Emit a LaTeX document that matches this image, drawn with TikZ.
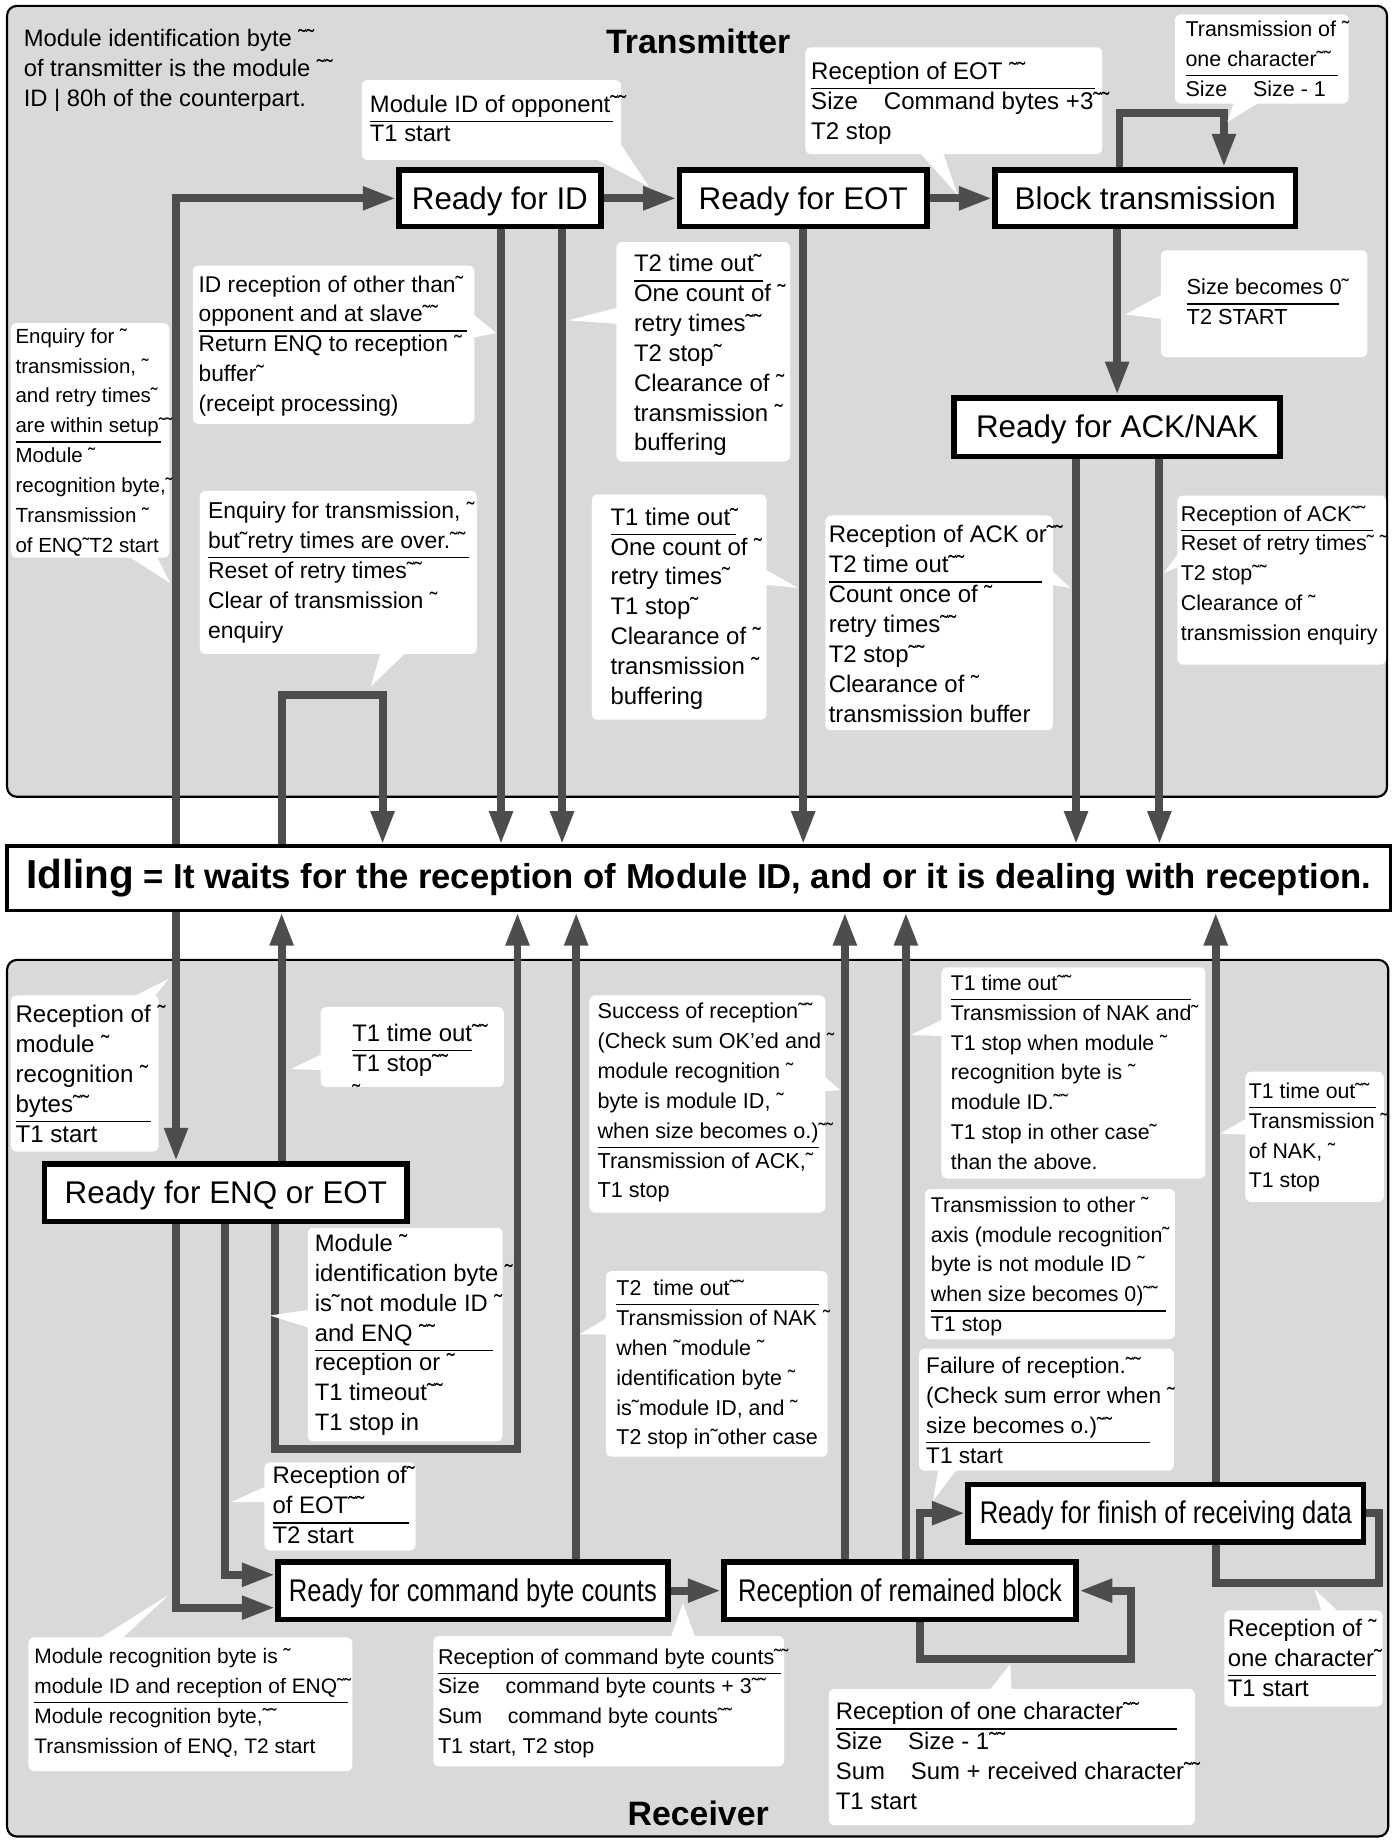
\documentclass[tikz,border=0pt]{standalone}
\usepackage{fontspec}
\setmainfont{Liberation Sans}
\usepackage{graphicx}
\usetikzlibrary{arrows.meta,positioning}
\definecolor{panelgray}{RGB}{217,217,217}
\definecolor{flowgray}{RGB}{77,77,77}
\newlength\pxu
\setlength\pxu{0.025cm}
\newcommand\nf[1]{\fontsize{#1}{18.1}\selectfont}
\newcommand\condline[1]{\makebox[0pt][l]{\rule[-6pt]{#1\pxu}{0.8pt}}}
\newcommand\sgap{\hspace{22\pxu}}
\tikzset{
  panel/.style={draw=black, line width=1.3pt, fill=panelgray, rounded corners=6pt},
  state/.style={draw=black, line width=3.5pt, fill=white, inner sep=0pt,
    text height=14pt, text depth=1pt, font=\fontsize{19}{22}\selectfont},
  flowline/.style={draw=flowgray, line width=4.8pt},
  flow/.style={flowline, -{Triangle[length=0.71cm,width=0.47cm]}},
  note/.style={fill=white, rounded corners=3.5pt, anchor=north west, inner sep=0pt},
  notetext/.style={anchor=north west, align=left, inner sep=0pt, font=\nf{13.8}},
  pointer/.style={fill=white},
}

\begin{document}
\begin{tikzpicture}[x=0.025cm, y=-0.025cm]
    \fill[white] (0,0) rectangle (1191,1568);
    \useasboundingbox (0,0) rectangle (1191,1568);

    % Panels
    \draw[panel] (6,5) rectangle (1182,679);
    \draw[panel] (6,818) rectangle (1183,1565);

    % Titles
    \node[font=\fontsize{20.5}{24}\selectfont\bfseries] (txtitle) at (595,35) {Transmitter};
    \node[font=\fontsize{20.5}{24}\selectfont\bfseries] (rxtitle) at (595,1545) {Receiver};
    \node[notetext, font=\nf{14.4}] (idnote) at (20,25)
        {Module identification byte ˜˜\\of transmitter is the module ˜˜\\ID | 80h of the counterpart.};

    % States of the transmitter
    \node[state, minimum width=172*\pxu, minimum height=48*\pxu] (rid) at (426,169) {Ready for ID};
    \node[state, minimum width=211*\pxu, minimum height=48*\pxu] (reot) at (684.5,169) {Ready for EOT};
    \node[state, minimum width=256*\pxu, minimum height=48*\pxu] (bt) at (976,169) {Block transmission};
    \node[state, minimum width=278*\pxu, minimum height=50*\pxu] (ran) at (952,364) {Ready for ACK/NAK};

    % States of the receiver
    \node[state, minimum width=309*\pxu, minimum height=49*\pxu] (renq) at (192.5,1016.5) {Ready for ENQ or EOT};
    \node[state, minimum width=332*\pxu, minimum height=49*\pxu] (rcbc) at (403,1355.5)
        {\scalebox{0.815}[1]{Ready for command byte counts}};
    \node[state, minimum width=300*\pxu, minimum height=49*\pxu] (rrb) at (767,1355.5)
        {\scalebox{0.815}[1]{Reception of remained block}};
    \node[state, minimum width=337*\pxu, minimum height=49*\pxu] (rfin) at (993.5,1289.5)
        {\scalebox{0.815}[1]{Ready for finish of receiving data}};

    % Idling
    \node[draw=black, line width=2pt, fill=white, inner sep=0pt,
        minimum width=1179*\pxu, minimum height=55*\pxu,
        font=\fontsize{21}{25}\selectfont\bfseries] (idle) at (595.5,748.5)
        {{\fontsize{24.5}{28}\selectfont Idling} = It waits for the reception of Module ID, and or it is dealing with reception.};

    % Columns of the vertical connectors
    \foreach \n/\x in {a/150,b/427,c/479,e/917,f/988,g/240,h/192,k/491,l/720,m/772,o/1036}
        \coordinate (col\n) at (\x,0);
    \coordinate (loopa) at (240,592);
    \coordinate (loopb) at (326,592);
    \coordinate (enqa) at (234,1235);
    \coordinate (enqb) at (441,1235);
    \coordinate (blka) at (784,1414);
    \coordinate (blkb) at (964,1414);
    \coordinate (fina) at (1175,1349);

    % Transmitter connectors
    \draw[flow] (idle.north -| cola) |- (rid.west);
    \draw[flow] (rid) -- (reot);
    \draw[flow] (reot) -- (bt);
    \draw[flow] ([xshift=-22*\pxu]bt.north) -- ++(0,-46) -| ([xshift=67*\pxu]bt.north);
    \draw[flow] (bt.south -| ran.north) -- (ran.north);
    \draw[flow] (rid.south -| colb) -- (idle.north -| colb);
    \draw[flow] (rid.south -| colc) -- (idle.north -| colc);
    \draw[flow] (reot.south) -- (idle.north -| reot.south);
    \draw[flow] (ran.south -| cole) -- (idle.north -| cole);
    \draw[flow] (ran.south -| colf) -- (idle.north -| colf);
    \draw[flow] (idle.north -| loopa) -- (loopa) -- (loopb) -- (idle.north -| loopb);

    % Receiver connectors
    \draw[flow] (idle.south -| cola) -- (renq.north -| cola);
    \draw[flow] (renq.north -| colg) -- (idle.south -| colg);
    \draw[flow] (renq.south -| enqa) -- (enqa) -- (enqb) -- (idle.south -| enqb);
    \draw[flow] (renq.south -| cola) |- ([yshift=-14.5*\pxu]rcbc.west);
    \draw[flow] (renq.south -| colh) |- ([yshift=13.5*\pxu]rcbc.west);
    \draw[flow] (rcbc.north -| colk) -- (idle.south -| colk);
    \draw[flow] (rcbc) -- (rrb);
    \draw[flow] (rrb.north -| coll) -- (idle.south -| coll);
    \draw[flow] (rrb.north -| colm) -- (idle.south -| colm);
    \draw[flow] (rrb.south -| blka) -- (blka) -- (blkb) |- (rrb.east);
    \draw[flow] (rrb.north -| blka) |- (rfin.west);
    \draw[flow] (rfin.north -| colo) -- (idle.south -| colo);
    \draw[flowline] (rfin.east) -| (fina) -| (rfin.south -| colo);

    % Callouts of the transmitter
    \node[note, minimum width=221*\pxu, minimum height=68*\pxu] (opp) at (308,68) {};
    \fill[pointer] (505,134) -- (527,120) -- (553,159) -- cycle;
    \node[notetext, font=\nf{14.4}] (oppt) at (315,80.5) {\condline{207}Module ID of opponent˜˜\\T1 start};

    \node[note, minimum width=253*\pxu, minimum height=91*\pxu] (eotrx) at (686,40) {};
    \fill[pointer] (782,128) -- (803,128) -- (816,166) -- cycle;
    \node[notetext, font=\nf{14.6}] (eotrxt) at (691,52.5)
        {\condline{242}Reception of EOT ˜˜\\Size\sgap Command bytes +3˜˜\\T2 stop};

    \node[note, minimum width=148*\pxu, minimum height=76*\pxu] (chartx) at (1001,12) {};
    \fill[pointer] (1052,86) -- (1075,86) -- (1046,104) -- cycle;
    \node[notetext, font=\nf{13}] (chartxt) at (1010,17.5)
        {Transmission of ˜\\\condline{130}one character˜˜\\Size\sgap Size - 1};

    \node[note, minimum width=176*\pxu, minimum height=91*\pxu] (sizezero) at (989,213) {};
    \fill[pointer] (992,250) -- (992,272) -- (959,268) -- cycle;
    \node[notetext, font=\nf{13.2}] (sizezerot) at (1011,237.5) {\condline{130}Size becomes 0˜\\T2 START};

    \node[note, minimum width=240*\pxu, minimum height=135*\pxu] (idother) at (164,226) {};
    \fill[pointer] (401,266) -- (401,288) -- (423,284) -- cycle;
    \node[notetext] (idothert) at (169,234.5)
        {ID reception of other than˜\\\condline{229}opponent and at slave˜˜\\Return ENQ to reception ˜\\buffer˜\\(receipt processing)};

    \node[note, minimum width=148*\pxu, minimum height=187*\pxu] (ttwoout) at (525,206) {};
    \fill[pointer] (527,262) -- (527,276) -- (484,273) -- cycle;
    \node[notetext, font=\nf{14.5}] (ttwooutt) at (540,216.5)
        {\condline{110}T2 time out˜\\One count of ˜\\retry times˜˜\\T2 stop˜\\Clearance of ˜\\transmission ˜\\buffering};

    \node[note, minimum width=135*\pxu, minimum height=200*\pxu] (enqtx) at (9,275) {};
    \fill[pointer] (108,473) -- (133,473) -- (145,497) -- cycle;
    \node[notetext, font=\nf{12.4}] (enqtxt) at (13,279.5)
        {Enquiry for ˜\\transmission, ˜\\and retry times˜\\\condline{124}are within setup˜˜\\Module ˜\\recognition byte,˜\\Transmission ˜\\of ENQ˜T2 start};

    \node[note, minimum width=236*\pxu, minimum height=139*\pxu] (retryover) at (170,418) {};
    \fill[pointer] (325,554) -- (348,554) -- (316,585) -- cycle;
    \node[notetext, font=\nf{13.9}] (retryovert) at (177,427.5)
        {Enquiry for transmission, ˜\\\condline{222}but˜retry times are over.˜˜\\Reset of retry times˜˜\\Clear of transmission ˜\\enquiry};

    \node[note, minimum width=149*\pxu, minimum height=192*\pxu] (toneout) at (504,421) {};
    \fill[pointer] (650,484) -- (650,498) -- (680,501) -- cycle;
    \node[notetext, font=\nf{14.5}] (toneoutt) at (520,432.5)
        {\condline{107}T1 time out˜\\One count of ˜\\retry times˜\\T1 stop˜\\Clearance of ˜\\transmission ˜\\buffering};

    \node[note, minimum width=194*\pxu, minimum height=183*\pxu] (ackout) at (703,439) {};
    \fill[pointer] (894,484) -- (894,498) -- (912,501) -- cycle;
    \node[notetext, font=\nf{14.5}] (ackoutt) at (706,447.5)
        {Reception of ACK or˜˜\\\condline{182}T2 time out˜˜\\Count once of ˜\\retry times˜˜\\T2 stop˜˜\\Clearance of ˜\\transmission buffer};

    \node[note, minimum width=178*\pxu, minimum height=144*\pxu] (ackrx) at (1003,422) {};
    \fill[pointer] (1007,468) -- (1007,482) -- (992,488) -- cycle;
    \node[notetext, font=\nf{13}] (ackrxt) at (1006,430.5)
        {\condline{164}Reception of ACK˜˜\\Reset of retry times˜ ˜\\T2 stop˜˜\\Clearance of ˜\\transmission enquiry};

    % Callouts of the receiver
    \node[note, minimum width=126*\pxu, minimum height=133*\pxu] (modrx) at (9,848) {};
    \fill[pointer] (112,850) -- (131,850) -- (144,834) -- cycle;
    \node[notetext, font=\nf{14.6}] (modrxt) at (13,856.5)
        {Reception of ˜\\module ˜\\recognition ˜\\\condline{115}bytes˜˜\\T1 start};

    \node[note, minimum width=156*\pxu, minimum height=68*\pxu] (tonestop) at (273,858) {};
    \fill[pointer] (275,898) -- (275,912) -- (248,911) -- cycle;
    \node[notetext, font=\nf{14.5}] (tonestopt) at (300,872.5) {\condline{102}T1 time out˜˜\\T1 stop˜˜\\˜};

    \node[note, minimum width=201*\pxu, minimum height=185*\pxu] (rxok) at (502,848) {};
    \fill[pointer] (700,915) -- (700,930) -- (716,929) -- cycle;
    \node[notetext, font=\nf{13.1}] (rxokt) at (509,854.5)
        {Success of reception˜˜\\(Check sum OK'ed and ˜\\module recognition ˜\\byte is module ID, ˜\\\condline{189}when size becomes o.)˜˜\\Transmission of ACK,˜\\T1 stop};

    \node[note, minimum width=225*\pxu, minimum height=180*\pxu] (naktx) at (802,824) {};
    \fill[pointer] (805,868) -- (805,883) -- (776,882) -- cycle;
    \node[notetext, font=\nf{12.9}] (naktxt) at (810,830.5)
        {\condline{205}T1 time out˜˜\\Transmission of NAK and˜\\T1 stop when module ˜\\recognition byte is ˜\\module ID.˜˜\\T1 stop in other case˜\\than the above.};

    \node[note, minimum width=118*\pxu, minimum height=111*\pxu] (nakfin) at (1061,913) {};
    \fill[pointer] (1064,952) -- (1064,967) -- (1040,966) -- cycle;
    \node[notetext, font=\nf{12.9}] (nakfint) at (1064,922.5)
        {\condline{108}T1 time out˜˜\\Transmission ˜\\of NAK, ˜\\T1 stop};

    \node[note, minimum width=213*\pxu, minimum height=128*\pxu] (otheraxis) at (788,1013) {};
    \node[notetext, font=\nf{12.95}] (otheraxist) at (793,1019.5)
        {Transmission to other ˜\\axis (module recognition˜\\byte is not module ID ˜\\\condline{200}when size becomes 0)˜˜\\T1 stop};

    \node[note, minimum width=217*\pxu, minimum height=104*\pxu] (rxfail) at (783,1149) {};
    \fill[pointer] (800,1250) -- (817,1250) -- (795,1279) -- cycle;
    \node[notetext, font=\nf{13.7}] (rxfailt) at (789,1156.5)
        {Failure of reception.˜˜\\(Check sum error when ˜\\\condline{191}size becomes o.)˜˜\\T1 start};

    \node[note, minimum width=166*\pxu, minimum height=182*\pxu] (notid) at (262,1046) {};
    \fill[pointer] (265,1116) -- (265,1132) -- (230,1121) -- cycle;
    \node[notetext, font=\nf{14.4}] (notidt) at (268,1051.5)
        {Module ˜\\identification byte ˜\\is˜not module ID ˜\\\condline{152}and ENQ ˜˜\\reception or ˜\\T1 timeout˜˜\\T1 stop in};

    \node[note, minimum width=129*\pxu, minimum height=75*\pxu] (eotenq) at (225,1246) {};
    \fill[pointer] (228,1266) -- (228,1280) -- (197,1280) -- cycle;
    \node[notetext, font=\nf{14.5}] (eotenqt) at (232,1249.5) {Reception of˜\\\condline{116}of EOT˜˜\\T2 start};

    \node[note, minimum width=189*\pxu, minimum height=158*\pxu] (ttwonak) at (516,1083) {};
    \fill[pointer] (519,1122) -- (519,1137) -- (494,1137) -- cycle;
    \node[notetext, font=\nf{13}] (ttwonakt) at (525,1090.5)
        {\condline{173}T2\ \ time out˜˜\\Transmission of NAK ˜\\when ˜module ˜\\identification byte ˜\\is˜module ID, and ˜\\T2 stop in˜other case};

    \node[note, minimum width=276*\pxu, minimum height=114*\pxu] (enqrx) at (24,1395) {};
    \fill[pointer] (82,1398) -- (102,1398) -- (144,1359) -- cycle;
    \node[notetext, font=\nf{12.7}] (enqrxt) at (29,1404.5)
        {Module recognition byte is ˜\\\condline{267}module ID and reception of ENQ˜˜\\Module recognition byte,˜˜\\Transmission of ENQ, T2 start};

    \node[note, minimum width=299*\pxu, minimum height=111*\pxu] (cbcrx) at (369,1394) {};
    \fill[pointer] (571,1397) -- (593,1397) -- (582,1366) -- cycle;
    \node[notetext, font=\nf{13}] (cbcrxt) at (373,1404.5)
        {\condline{292}Reception of command byte counts˜˜\\Size\sgap command byte counts + 3˜˜\\Sum\sgap command byte counts˜˜\\T1 start, T2 stop};

    \node[note, minimum width=312*\pxu, minimum height=116*\pxu] (charrx) at (706,1439) {};
    \fill[pointer] (842,1442) -- (862,1442) -- (861,1418) -- cycle;
    \node[notetext, font=\nf{14.5}] (charrxt) at (712,1450.5)
        {\condline{291}Reception of one character˜˜\\Size\sgap Size - 1˜˜\\Sum\sgap Sum + received character˜˜\\T1 start};

    \node[note, minimum width=135*\pxu, minimum height=82*\pxu] (charfin) at (1043,1372) {};
    \fill[pointer] (1127,1375) -- (1142,1375) -- (1120,1354) -- cycle;
    \node[notetext, font=\nf{14.5}] (charfint) at (1046,1379.5)
        {Reception of ˜\\\condline{126}one character˜\\T1 start};
\end{tikzpicture}
\end{document}
